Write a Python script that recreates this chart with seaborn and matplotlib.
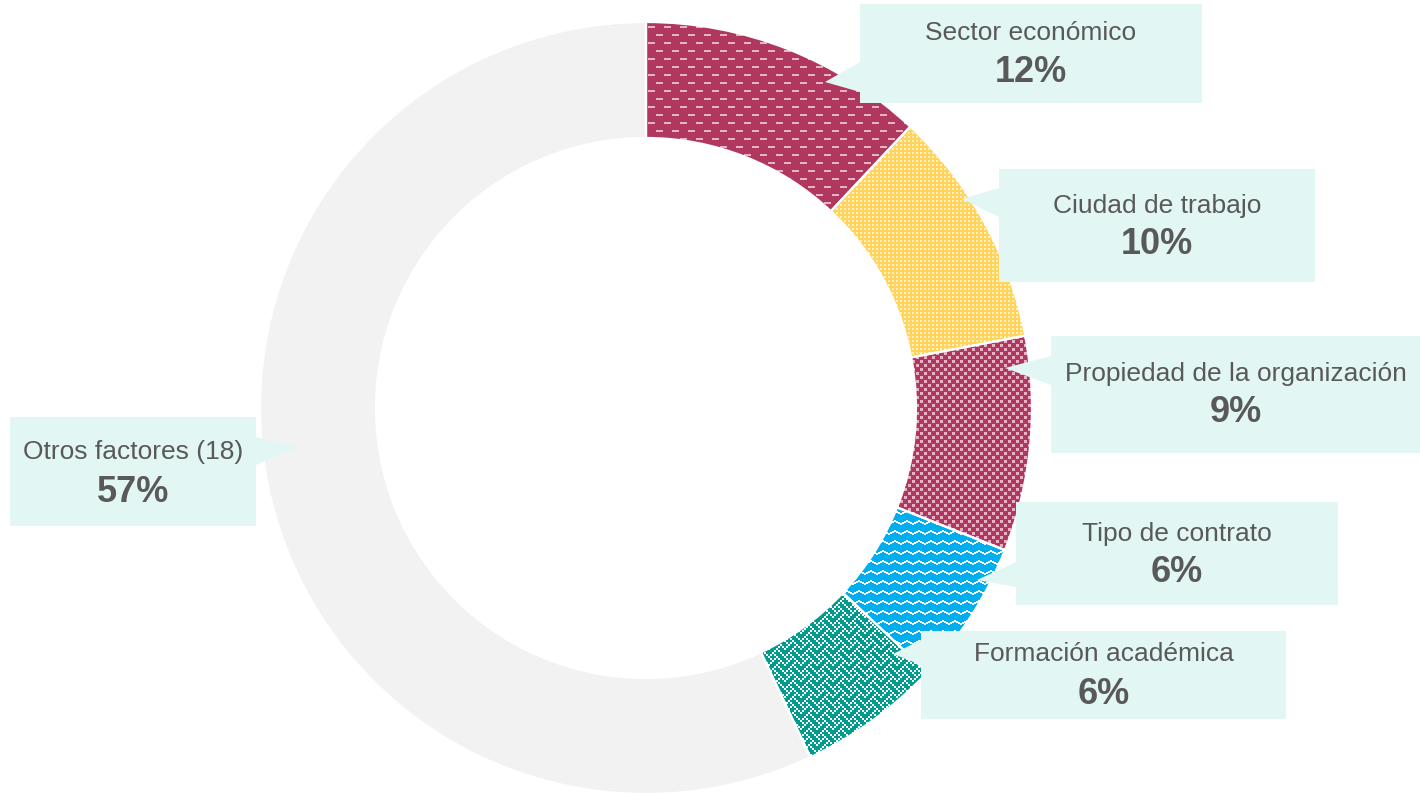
import numpy as np
import matplotlib.pyplot as plt
from matplotlib.patches import Rectangle, Polygon
import seaborn as sns

# data
categories = ["Sector económico", "Ciudad de trabajo", "Propiedad de la organización",
              "Tipo de contrato", "Formación académica", "Otros factores (18)"]
shares = [12, 10, 9, 6, 6, 57]

W, H = 1420, 794
sns.set_theme(style="white")
plt.rcParams["font.family"] = ["Liberation Sans", "DejaVu Sans"]

maroon = "#B0385F"
pink = "#E8B2C6"
yellow = "#FFD35C"
cream = "#FFF1C4"
cyan = "#00AEEF"
teal = "#009B8F"
grey = "#F2F2F2"
box_col = "#E2F6F4"
txt_col = "#595959"


def to_rgb(c):
    return np.array(plt.matplotlib.colors.to_rgb(c))


def texture(mask, fg, bg):
    mask = np.tile(mask, (H // mask.shape[0] + 1, W // mask.shape[1] + 1))[:H, :W]
    img = np.empty((H, W, 3))
    img[:] = to_rgb(bg)
    img[mask.astype(bool)] = to_rgb(fg)
    return img


def from_bytes(rows, scale=2):
    m = np.array([[(b >> (7 - i)) & 1 for i in range(8)] for b in rows])
    return np.kron(m, np.ones((scale, scale), dtype=int))


# patterns
dash = np.zeros((16, 16), int)
dash[2:4, 0:7] = 1
dash[10:12, 8:15] = 1

dots = np.zeros((4, 4), int)
dots[0:2, 0:2] = 1

squares = np.zeros((8, 8), int)
squares[0:3, 0:3] = 1
squares[4:7, 4:7] = 1

wave = np.zeros((10, 12), int)
for x in range(12):
    h = abs((x // 2) % 6 - 3)
    wave[h, x] = 1
    wave[h + 1, x] = 1

weave = from_bytes([0x88, 0x54, 0x22, 0x45, 0x88, 0x14, 0x22, 0x51])

textures = [texture(dash, pink, maroon), texture(dots, cream, yellow),
            texture(squares, pink, maroon), texture(wave, "white", cyan),
            texture(weave, "white", teal), None]
face_colors = [maroon, yellow, maroon, cyan, teal, grey]

fig = plt.figure(figsize=(W / 100, H / 100), dpi=100)
ax = fig.add_axes([0, 0, 1, 1])

center = (646, H - 408)
radius = 386
ring = 116

wedges, _ = ax.pie(shares, colors=face_colors, startangle=90, counterclock=False,
                   center=center, radius=radius,
                   wedgeprops=dict(width=ring, linewidth=0, zorder=1))

for w, tex in zip(wedges, textures):
    if tex is None:
        continue
    im = ax.imshow(tex, extent=(0, W, 0, H), origin="upper",
                   interpolation="nearest", zorder=2)
    im.set_clip_path(w)

ax.pie(shares, colors=["none"] * len(shares), startangle=90, counterclock=False,
       center=center, radius=radius,
       wedgeprops=dict(width=ring, linewidth=1.6, edgecolor="white", zorder=3))

# callout boxes (image pixel coords): x0, y0, x1, y1, tip, base y range, text ys
boxes = [
    (860, 4, 1202, 103, (825, 82), (62, 92), 33, 73),
    (999, 169, 1315, 282, (962, 199), (188, 217), 206, 245),
    (1051, 336, 1420, 453, (1005, 368), (356, 385), 374, 413),
    (1016, 502, 1338, 605, (977, 580), (562, 587), 534, 573),
    (921, 631, 1286, 719, (893, 654), (640, 665), 654, 695),
    (10, 417, 256, 526, (297, 447), (437, 465), 452, 492),
]

for cat, val, (x0, y0, x1, y1, tip, base, ly, py) in zip(categories, shares, boxes):
    ax.add_patch(Rectangle((x0, H - y1), x1 - x0, y1 - y0, facecolor=box_col,
                           edgecolor="none", zorder=4))
    bx = x0 if tip[0] < x0 else x1
    ax.add_patch(Polygon([(bx, H - base[0]), (tip[0], H - tip[1]), (bx, H - base[1])],
                         closed=True, facecolor=box_col, edgecolor="none", zorder=4))
    cx = (x0 + x1) / 2
    ax.text(cx, H - ly, cat, ha="center", va="center", fontsize=19,
            color=txt_col, zorder=5)
    ax.text(cx, H - py, f"{val}%", ha="center", va="center", fontsize=26,
            fontweight="bold", color=txt_col, zorder=5)

ax.set_aspect("auto")
ax.set_xlim(0, W)
ax.set_ylim(0, H)
ax.axis("off")

fig.savefig("out.png", dpi=100, facecolor="white")
